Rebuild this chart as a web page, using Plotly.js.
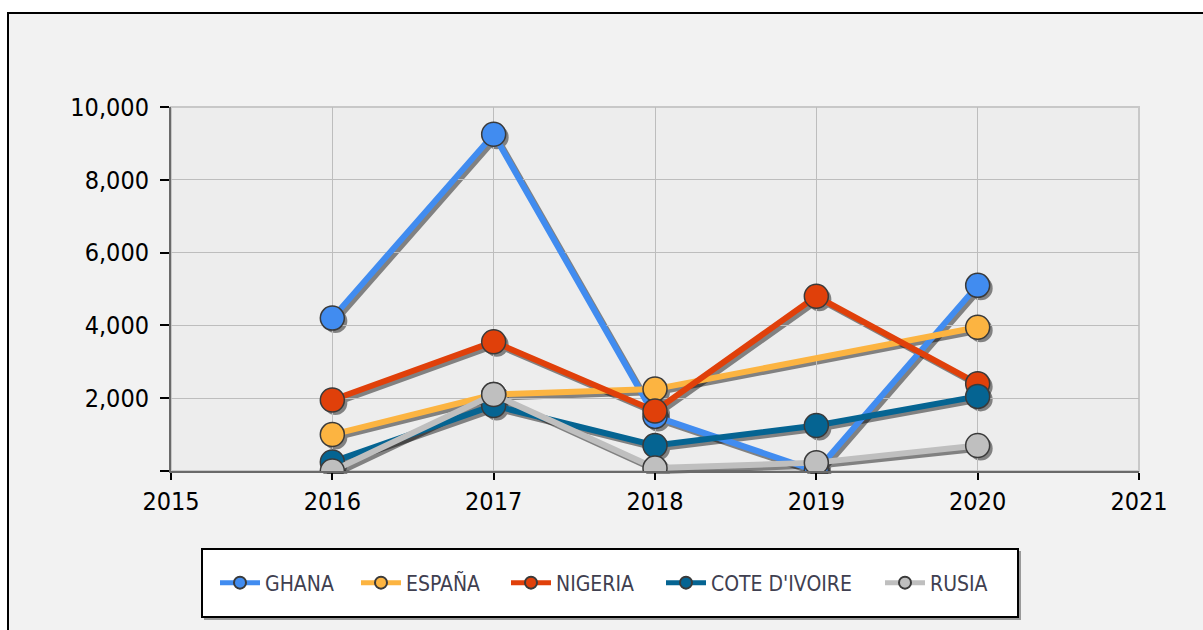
<!DOCTYPE html>
<html>
<head>
<meta charset="utf-8">
<script src="https://cdn.plot.ly/plotly-3.0.1.min.js"></script>
<style>
  html, body { margin: 0; padding: 0; background: #ffffff; }
  #chart { width: 1203px; height: 630px; }
</style>
</head>
<body>
<div id="chart"></div>
<script>
// ---- data ----
var years = [2016, 2017, 2018, 2019, 2020];
var ghana = [4200, 9250, 1500, 0, 5100];
var espana = [1000, 2100, 2250, null, 3950];
var nigeria = [1950, 3550, 1650, 4800, 2400];
var coteDivoire = [250, 1800, 700, 1250, 2050];
var rusia = [0, 2100, 80, 230, 700];
var seriesNames = ["GHANA", "ESPAÑA", "NIGERIA", "COTE D'IVOIRE", "RUSIA"];
var yTickVals = [0, 2000, 4000, 6000, 8000, 10000];
var yTickText = ["", "2,000", "4,000", "6,000", "8,000", "10,000"];
var xTickVals = [2015, 2016, 2017, 2018, 2019, 2020, 2021];

// ---- styling ----
var colors = ["#418CF0", "#FCB441", "#E0400A", "#056492", "#BFBFBF"];
var seriesValues = [ghana, espana, nigeria, coteDivoire, rusia];
var FONT = '"Liberation Sans Narrow", "DejaVu Sans Condensed", "Arial Narrow", sans-serif';

// pixel geometry helpers (plot region: 171..1142 x, 107..474 y)
var L = 171, T = 107, W = 971, H = 367;
function px(x) { return (x - L) / W; }
function py(y) { return (T + H - y) / H; }
var SH = 3; // shadow offset in px

var legendTextX = [265, 406, 556, 711, 930];
var legendY = 583;

var traces = [];
// shadows first (drawn underneath)
for (var i = 0; i < seriesValues.length; i++) {
  traces.push({
    x: years, y: seriesValues[i], xaxis: 'x', yaxis: 'y',
    type: 'scatter', mode: 'lines+markers', connectgaps: true,
    line: { color: '#000000', width: 6 },
    marker: { color: '#000000', size: 24, line: { width: 0 } },
    opacity: 0.45, showlegend: false, hoverinfo: 'skip'
  });
}
for (var j = 0; j < seriesValues.length; j++) {
  traces.push({
    x: years, y: seriesValues[j], xaxis: 'x2', yaxis: 'y2',
    name: seriesNames[j],
    type: 'scatter', mode: 'lines+markers', connectgaps: true,
    line: { color: colors[j], width: 6 },
    marker: { color: colors[j], size: 24, line: { color: '#3a3a3a', width: 1.5 } },
    legend: j === 0 ? 'legend' : 'legend' + (j + 1)
  });
}

var shapes = [
  // outer frame
  { type: 'rect', xref: 'paper', yref: 'paper', layer: 'below',
    x0: px(8), x1: px(1215), y0: py(13), y1: py(645),
    fillcolor: '#F2F2F2', line: { color: '#000000', width: 2 } },
  // plot area background
  { type: 'rect', xref: 'paper', yref: 'paper', layer: 'below',
    x0: px(171), x1: px(1139), y0: py(471), y1: py(107),
    fillcolor: '#EDEDED', line: { color: '#C8C8C8', width: 2 } },
  // legend box shadow
  { type: 'rect', xref: 'paper', yref: 'paper', layer: 'below',
    x0: px(204), x1: px(1021), y0: py(620), y1: py(551),
    fillcolor: '#9a9a9a', line: { width: 0 } },
  // legend box
  { type: 'rect', xref: 'paper', yref: 'paper', layer: 'below',
    x0: px(202), x1: px(1018), y0: py(617), y1: py(549),
    fillcolor: '#FFFFFF', line: { color: '#000000', width: 2 } }
];

var layout = {
  width: 1203, height: 630,
  margin: { l: L, r: 1203 - L - W, t: T, b: 630 - T - H, pad: 0 },
  paper_bgcolor: '#FFFFFF',
  plot_bgcolor: 'rgba(0,0,0,0)',
  font: { family: FONT, color: '#000000' },
  showlegend: true,
  shapes: shapes,
  // shadow axes (hidden, offset by SH px)
  xaxis: { domain: [SH / W, 1], range: [2015, 2021], visible: false, fixedrange: true },
  yaxis: { domain: [0, 1 - SH / H], range: [0, 10000], visible: false, fixedrange: true },
  // main axes
  xaxis2: {
    domain: [0, 1 - SH / W], anchor: 'y2', range: [2015, 2021],
    tickmode: 'array', tickvals: xTickVals,
    showgrid: true, gridcolor: '#BDBDBD', gridwidth: 1,
    showline: true, linecolor: '#6a6a6a', linewidth: 2,
    ticks: 'outside', ticklen: 7, tickwidth: 2, tickcolor: '#000000',
    ticklabelstandoff: 0,
    tickfont: { family: FONT, size: 25, color: '#000000' },
    zeroline: false, fixedrange: true
  },
  yaxis2: {
    domain: [SH / H, 1], anchor: 'x2', range: [0, 10000],
    tickmode: 'array', tickvals: yTickVals, ticktext: yTickText,
    showgrid: true, gridcolor: '#BDBDBD', gridwidth: 1,
    showline: true, linecolor: '#6a6a6a', linewidth: 2,
    ticks: 'outside', ticklen: 9, tickwidth: 2, tickcolor: '#000000',
    ticklabelstandoff: 6,
    tickfont: { family: FONT, size: 25, color: '#000000' },
    zeroline: false, fixedrange: true
  }
};

for (var k = 0; k < seriesNames.length; k++) {
  var key = k === 0 ? 'legend' : 'legend' + (k + 1);
  layout[key] = {
    x: px(legendTextX[k] - 50), y: py(legendY),
    xanchor: 'left', yanchor: 'middle',
    orientation: 'h', bgcolor: 'rgba(0,0,0,0)', borderwidth: 0,
    itemwidth: 40, itemsizing: 'constant',
    font: { family: FONT, size: 21, color: '#404050' }
  };
}

Plotly.newPlot('chart', traces, layout, { displayModeBar: false, staticPlot: true });
</script>
</body>
</html>
